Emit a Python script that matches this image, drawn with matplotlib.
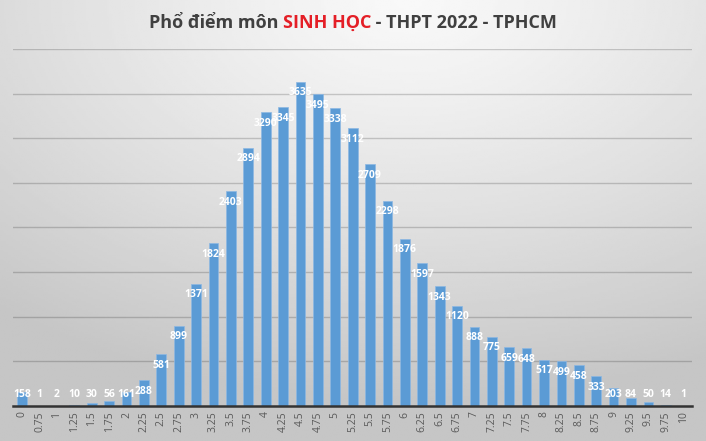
import numpy as np
import matplotlib.pyplot as plt

# diem (score) categories and so luong thi sinh (number of candidates)
diem = ['0', '0.75', '1', '1.25', '1.5', '1.75', '2', '2.25', '2.5', '2.75',
        '3', '3.25', '3.5', '3.75', '4', '4.25', '4.5', '4.75', '5', '5.25',
        '5.5', '5.75', '6', '6.25', '6.5', '6.75', '7', '7.25', '7.5', '7.75',
        '8', '8.25', '8.5', '8.75', '9', '9.25', '9.5', '9.75', '10']
so_luong = [158, 1, 2, 10, 30, 56, 161, 288, 581, 899,
            1371, 1824, 2403, 2894, 3290, 3345, 3635, 3495, 3338, 3112,
            2709, 2298, 1876, 1597, 1343, 1120, 888, 775, 659, 648,
            517, 499, 458, 333, 203, 84, 50, 14, 1]

title_parts = [('Phổ điểm môn ', '#404040'), ('SINH HỌC', '#e41e26'),
               (' - THPT 2022 - TPHCM', '#404040')]

fig = plt.figure(figsize=(7.06, 4.41), dpi=100)

# gradient background (light at top middle, greyer toward edges)
bg = fig.add_axes([0, 0, 1, 1], zorder=-10)
yy, xx = np.mgrid[0:1:200j, 0:1:300j]
r = np.sqrt(((xx - 0.58) * 1.15) ** 2 + ((yy - 0.0) * 1.15) ** 2)
r = np.clip(r / 1.05, 0, 1)
shade = 0.975 - 0.2 * r ** 1.2
bg.imshow(shade, cmap='gray', vmin=0, vmax=1, aspect='auto', extent=[0, 1, 1, 0])
bg.set_xlim(0, 1)
bg.set_ylim(1, 0)
bg.axis('off')

ax = fig.add_axes([0.019, 0.0794, 0.961, 0.8096])
ax.patch.set_alpha(0)
x = np.arange(len(diem))
ax.bar(x, so_luong, width=0.56, color='#5b9bd5', edgecolor='#8db8e3', linewidth=0.5, zorder=3)

ax.set_xlim(-0.5, len(diem) - 0.5)
ax.set_ylim(0, 4000)
ax.set_yticks(np.arange(500, 4001, 500))
ax.yaxis.grid(True, color='black', alpha=0.18, linewidth=1)
ax.tick_params(axis='y', left=False, labelleft=False)
ax.set_xticks(x)
ax.set_xticklabels(diem, rotation=90, fontsize=7.5, color='#595959', family='Open Sans')
ax.tick_params(axis='x', length=0, pad=4)
for s in ['top', 'right', 'left']:
    ax.spines[s].set_visible(False)
ax.spines['bottom'].set_color('#333333')
ax.spines['bottom'].set_linewidth(1.8)
ax.spines['bottom'].set_zorder(4)

# data labels, inside end of bar
for xi, v in zip(x, so_luong):
    ax.text(xi, max(v - 123, 125), str(v), ha='center', va='center', color='white',
            fontsize=7.5, fontweight='bold', family='Open Sans', zorder=5)

# title with red subject name
renderer = fig.canvas.get_renderer()
texts = []
for s, c in title_parts:
    t = fig.text(0, 0.948, s, color=c, fontsize=13, fontweight='bold',
                 family='Open Sans', va='center', ha='left')
    texts.append(t)
widths = [t.get_window_extent(renderer).width for t in texts]
total = sum(widths)
start = (0.5 * fig.bbox.width - total / 2)
for t, w in zip(texts, widths):
    t.set_x(start / fig.bbox.width)
    start += w

fig.savefig('out.png', dpi=100)
